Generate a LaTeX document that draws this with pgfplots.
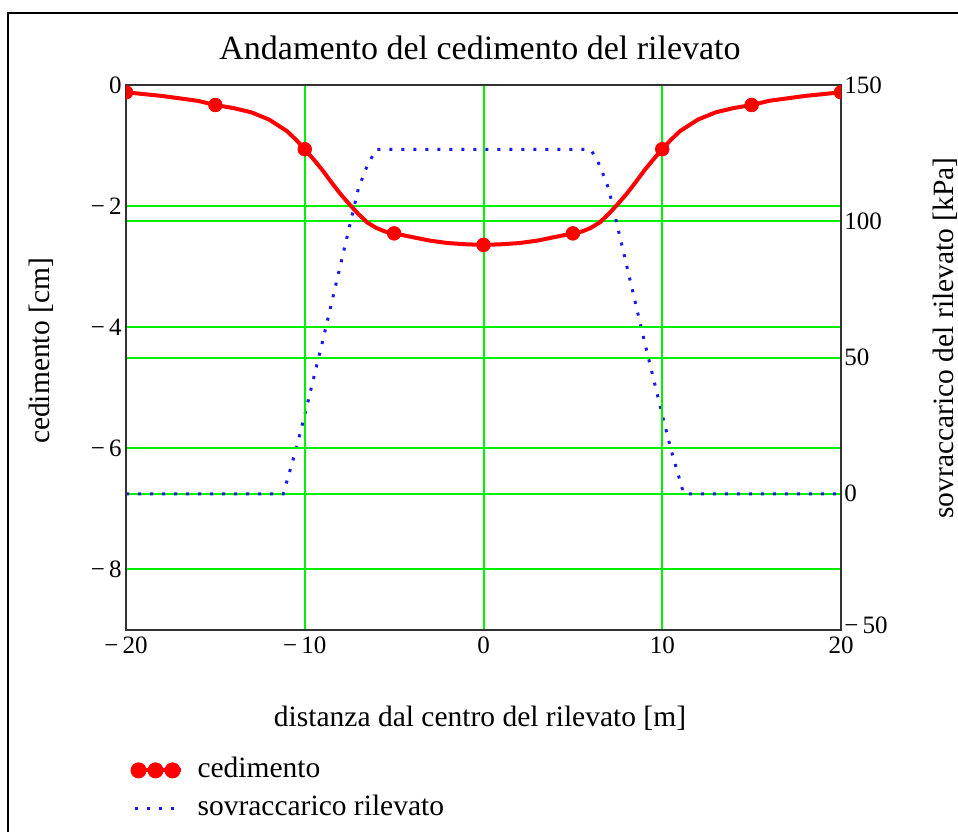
\documentclass[border=0pt]{standalone}
\usepackage{fontspec}
\setmainfont{Liberation Serif}
\usepackage{pgfplots}
\pgfplotsset{compat=1.18}
\definecolor{gridgreen}{RGB}{0,240,0}
\definecolor{axgray}{RGB}{50,50,50}
\definecolor{cred}{RGB}{255,0,0}
\definecolor{cblue}{RGB}{25,25,235}

\pgfplotstableread{
x y
-20 -0.12
-19 -0.15
-18 -0.18
-17 -0.22
-16 -0.26
-15 -0.33
-14 -0.38
-13 -0.45
-12 -0.57
-11 -0.76
-10.5 -0.90
-10 -1.06
-9.5 -1.23
-9 -1.41
-8.5 -1.61
-8 -1.80
-7.5 -1.97
-7 -2.13
-6.5 -2.27
-6 -2.36
-5.5 -2.42
-5 -2.45
-4 -2.51
-3 -2.57
-2 -2.61
-1 -2.63
0 -2.64
1 -2.63
2 -2.61
3 -2.57
4 -2.51
5 -2.45
5.5 -2.42
6 -2.36
6.5 -2.27
7 -2.13
7.5 -1.97
8 -1.80
8.5 -1.61
9 -1.41
9.5 -1.23
10 -1.06
10.5 -0.90
11 -0.76
12 -0.57
13 -0.45
14 -0.38
15 -0.33
16 -0.26
17 -0.22
18 -0.18
19 -0.15
20 -0.12
}\cedimento

\pgfplotstableread{
x y
-20 -0.12
-15 -0.33
-10 -1.06
-5 -2.45
0 -2.64
5 -2.45
10 -1.06
15 -0.33
20 -0.12
}\cedmarks

\pgfplotstableread{
x y
-20 0
-11.2 0
-10.5 16
-10 29
-9 56
-8 84
-7.5 98
-7 112
-6.5 120.5
-6 126.4
6 126.4
6.5 120.5
7 112
7.5 98
8 84
9 56
10 29
10.5 16
11.2 0
20 0
}\sovr

\begin{document}
\begin{tikzpicture}
\path[use as bounding box] (0pt,0pt) rectangle (479pt,415.5pt);
\draw[line width=1.2pt, black] (4pt,-2pt) -- (4pt,409pt) -- (481pt,409pt);

% right axis (drawn first)
\begin{axis}[
  at={(63pt,100.5pt)}, anchor=south west, scale only axis,
  width=357.5pt, height=272.5pt,
  xmin=-20, xmax=20, ymin=-50, ymax=150,
  axis x line=none, axis y line*=right,
  ytick={-50,0,50,100,150},
  yticklabels={\raisebox{5pt}{\textrm{−\,50}},\textrm{0},\textrm{50},\textrm{100},\textrm{150}},
  ymajorgrids, grid style={gridgreen, line width=1pt},
  axis line style={axgray, line width=1pt},
  major tick length=0pt,
  yticklabel style={font=\fontsize{12.5}{15}\selectfont, inner xsep=1.5pt},
  legend style={draw=none, fill=none, inner sep=0pt,
    at={(axis description cs:0.003,-0.222)}, anchor=north west,
    font=\fontsize{14.75}{17}\selectfont,
    nodes={text height=10pt, text depth=3pt, inner ysep=3pt, inner xsep=3pt},
    /tikz/every odd column/.append style={column sep=4.5pt}},
  legend cell align=left,
]
\addlegendimage{legend image code/.code={
  \draw[cred, line width=2pt] (0pt,0pt) -- (25pt,0pt);
  \fill[cred] (4pt,0pt) circle (3.8pt) (12.5pt,0pt) circle (3.8pt) (21pt,0pt) circle (3.8pt);}}
\addlegendentry{cedimento}
\addplot[cblue, line width=1.5pt, dash pattern=on 1.5pt off 4.5pt,
  legend image code/.code={\draw[cblue, line width=1.5pt, dash pattern=on 1.5pt off 4.5pt] (2pt,0pt) -- (25pt,0pt);}]
  table[x=x,y=y] {\sovr};
\addlegendentry{sovraccarico rilevato}
\end{axis}

% left axis
\begin{axis}[
  at={(63pt,100.5pt)}, anchor=south west, scale only axis,
  width=357.5pt, height=272.5pt,
  xmin=-20, xmax=20, ymin=-9, ymax=0,
  xtick={-20,-10,0,10,20},
  xticklabels={\textrm{−\,20},\textrm{−\,10},\textrm{0},\textrm{10},\textrm{20}},
  ytick={0,-2,-4,-6,-8},
  yticklabels={\textrm{0},\textrm{−\,2},\textrm{−\,4},\textrm{−\,6},\textrm{−\,8}},
  grid=major, grid style={gridgreen, line width=1pt},
  axis line style={axgray, line width=1pt},
  major tick length=0pt,
  ticklabel style={font=\fontsize{12.5}{15}\selectfont},
  xticklabel style={inner ysep=3pt},
  yticklabel style={inner xsep=2pt},
  clip marker paths=true,
]
\addplot[cred, line width=2pt, no marks] table[x=x,y=y] {\cedimento};
\addplot[cred, only marks, mark=*, mark size=3.4pt] table[x=x,y=y] {\cedmarks};
\end{axis}

\node[anchor=base, font=\fontsize{17}{20}\selectfont] at (240pt,385.5pt) {Andamento del cedimento del rilevato};
\node[anchor=base, font=\fontsize{14.75}{17}\selectfont] at (240pt,52.5pt) {distanza dal centro del rilevato [m]};
\node[anchor=base, rotate=90, font=\fontsize{14.75}{17}\selectfont] at (24.5pt,240pt) {cedimento [cm]};
\node[anchor=base, rotate=90, font=\fontsize{14.75}{17}\selectfont] at (476.5pt,246.5pt) {sovraccarico del rilevato [kPa]};
\end{tikzpicture}
\end{document}
